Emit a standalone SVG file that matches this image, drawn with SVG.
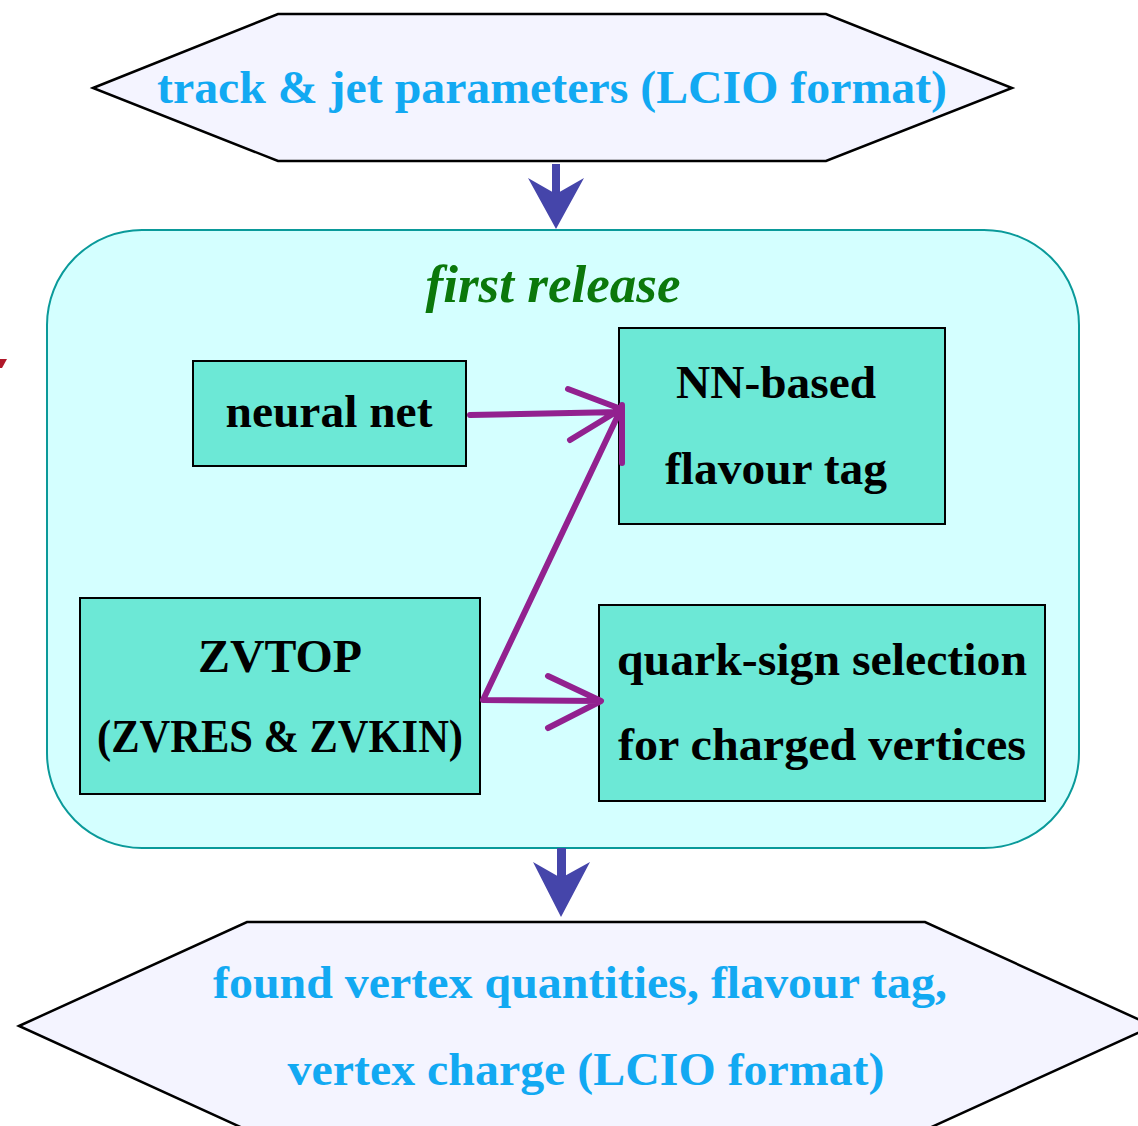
<svg xmlns="http://www.w3.org/2000/svg" width="1138" height="1126" viewBox="0 0 1138 1126">
<style>
.hex{fill:#F4F4FF;stroke:#000;stroke-width:2.5}
.io{font-family:"Liberation Serif",serif;font-weight:bold;fill:#12A9F2;text-anchor:middle;font-size:47px}
.box{fill:#6CE8D6;stroke:#000;stroke-width:2}
.bt{font-family:"Liberation Serif",serif;font-weight:bold;fill:#000;text-anchor:middle;font-size:47px}
.pa{stroke:#92218F;stroke-width:6;fill:none;stroke-linecap:round;stroke-linejoin:round}
.ba{fill:#4545AA}
</style>
<rect width="1138" height="1126" fill="#fff"/>
<polygon points="0,359 7,359 2,368 0,368" fill="#B0182A"/>
<g id="input">
<polygon class="hex" points="93,88 278,14 826,14 1012,88 826,161 278,161"/>
<text class="io" x="552" y="103" textLength="790" lengthAdjust="spacingAndGlyphs">track &amp; jet parameters (LCIO format)</text>
</g>
<g id="first-release">
<rect x="47" y="230" width="1032" height="618" rx="95" ry="95" fill="#D4FFFF" stroke="#0A9A9A" stroke-width="2"/>
<text x="553" y="302" font-family="Liberation Serif,serif" font-style="italic" font-weight="bold" font-size="52" fill="#0B780B" text-anchor="middle" textLength="255" lengthAdjust="spacingAndGlyphs">first release</text>
</g>
<g id="neural-net">
<rect class="box" x="193" y="361" width="273" height="105"/>
<text class="bt" x="329" y="427" textLength="207" lengthAdjust="spacingAndGlyphs">neural net</text>
</g>
<g id="nn-flavour-tag">
<rect class="box" x="619" y="328" width="326" height="196"/>
<text class="bt" x="776" y="398" textLength="200" lengthAdjust="spacingAndGlyphs">NN-based</text>
<text class="bt" x="776" y="484" textLength="222" lengthAdjust="spacingAndGlyphs">flavour tag</text>
</g>
<g id="zvtop">
<rect class="box" x="80" y="598" width="400" height="196"/>
<text class="bt" x="280" y="672" textLength="164" lengthAdjust="spacingAndGlyphs">ZVTOP</text>
<text class="bt" x="280" y="752" textLength="366" lengthAdjust="spacingAndGlyphs">(ZVRES &amp; ZVKIN)</text>
</g>
<g id="quark-sign">
<rect class="box" x="599" y="605" width="446" height="196"/>
<text class="bt" x="822" y="675" textLength="410" lengthAdjust="spacingAndGlyphs">quark-sign selection</text>
<text class="bt" x="822" y="760" textLength="408" lengthAdjust="spacingAndGlyphs">for charged vertices</text>
</g>
<g id="output">
<polygon class="hex" points="19,1026 247,922 925,922 1153,1026 925,1130 247,1130"/>
<text class="io" x="580" y="998" textLength="734" lengthAdjust="spacingAndGlyphs">found vertex quantities, flavour tag,</text>
<text class="io" x="586" y="1085" textLength="597" lengthAdjust="spacingAndGlyphs">vertex charge (LCIO format)</text>
</g>
<g id="connectors">
<rect class="ba" x="552" y="164" width="8" height="32"/>
<polygon class="ba" points="528,178 556,194 584,178 556,229"/>
<rect class="ba" x="557" y="848" width="9" height="32"/>
<polygon class="ba" points="533,862 561,878 590,862 561,917"/>
<path class="pa" d="M470 415 L620 412 M568 389 L621 409 L570 440 M622 405 L622 463 M483 700 L621 409 M483 700 L600 701 M548 676 L601 701 L548 728"/>
</g>
</svg>
